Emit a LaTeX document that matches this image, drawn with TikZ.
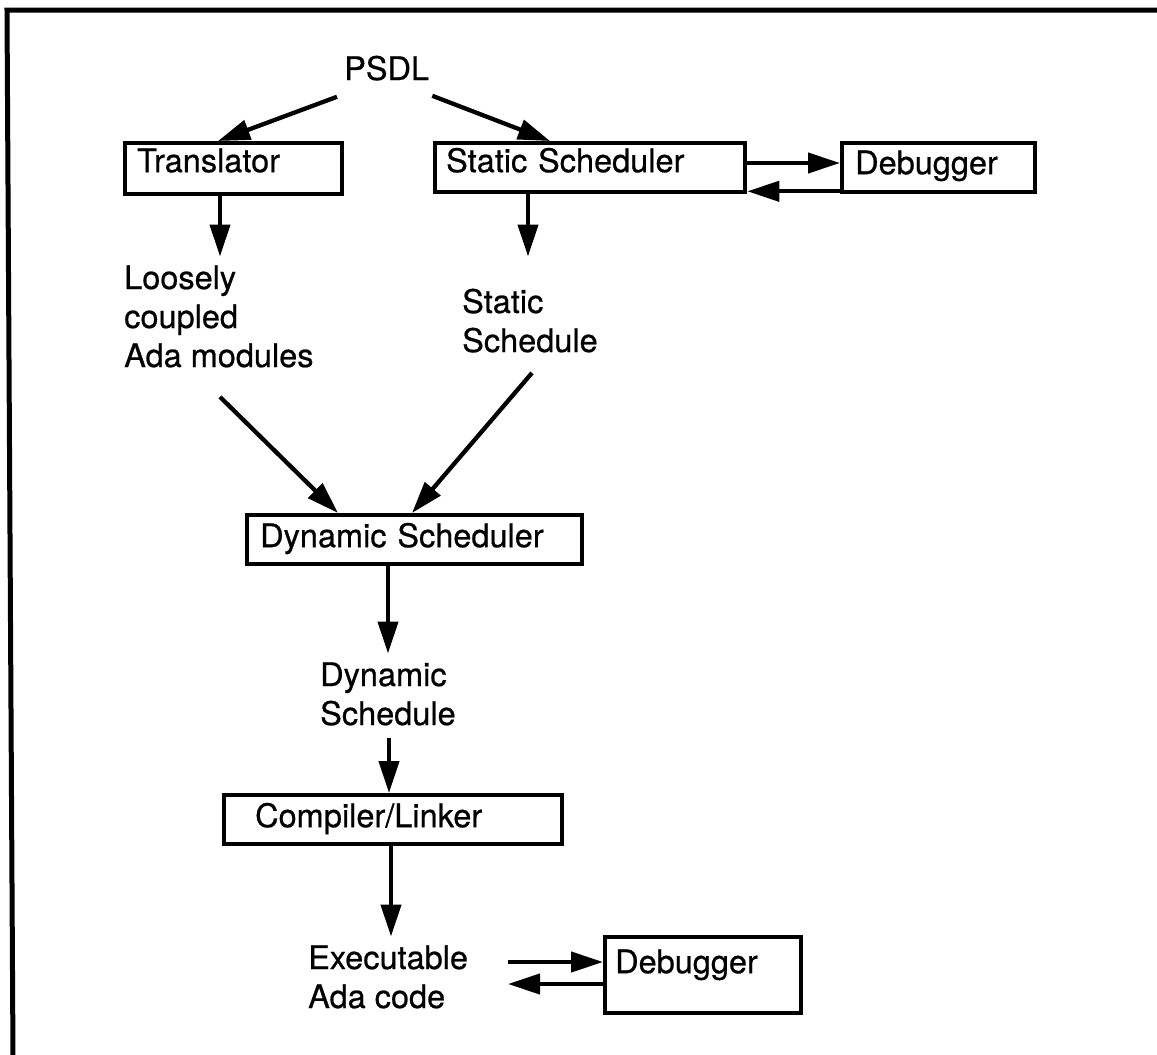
\documentclass[tikz,border=0pt]{standalone}
\usepackage{fontspec}
\setmainfont{TeX Gyre Heros}[FakeBold=0.6]
\usetikzlibrary{arrows.meta,calc}
\tikzset{
  lw/.style={line width=4.3pt},
  box/.style={draw, lw, anchor=north west, inner ysep=0pt, align=left, font=\fontsize{32.5pt}{39pt}\selectfont},
  lbl/.style={anchor=base west, inner sep=0pt, font=\fontsize{32.5pt}{39pt}\selectfont},
  arr/.style={lw, -{Triangle[length=32pt,width=20pt]}},
}
\begin{document}
\begin{tikzpicture}[x=1pt,y=-1pt]
\useasboundingbox (0,0) rectangle (1157,1055);
% frame
\draw[line width=5pt] (1160,10) -- (7,10) -- (13,1058);
% boxes
\node[box, inner xsep=12pt, text width=193pt, text height=29pt, text depth=22pt] (trans) at (123,141) {Translator};
\node[box, inner xsep=11pt, text width=288pt, text height=29pt, text depth=20pt] (stat) at (433,141) {Static Scheduler};
\node[box, inner xsep=13pt, text width=167pt, text height=31pt, text depth=18pt] (dbga) at (840,141) {Debugger};
\node[box, inner xsep=13pt, text width=309pt, text height=32pt, text depth=17pt] (dyn) at (245,513) {Dynamic Scheduler};
\node[box, inner xsep=31pt, text width=276pt, text height=32pt, text depth=17pt] (comp) at (222,793) {Compiler/Linker};
\node[box, inner xsep=10pt, text width=176pt, text height=36pt, text depth=40pt] (dbgb) at (603,935) {Debugger};
% labels
\node[lbl] (psdl) at (344,80) {PSDL};
\node[lbl] (loose) at (124,289) {\begin{tabular}[t]{@{}l@{}}Loosely\\coupled\\Ada modules\end{tabular}};
\node[lbl] (ssched) at (462,313) {\begin{tabular}[t]{@{}l@{}}Static\\Schedule\end{tabular}};
\node[lbl] (dsched) at (320,686) {\begin{tabular}[t]{@{}l@{}}Dynamic\\Schedule\end{tabular}};
\node[lbl] (exe) at (308,969) {\begin{tabular}[t]{@{}l@{}}Executable\\Ada code\end{tabular}};
% connectors
\draw[arr] ($(psdl.south west)+(-7,16)$) -- ($(trans.north west)+(95,0)$);
\draw[arr] ($(psdl.south east)+(3,15)$) -- ($(stat.north west)+(117,0)$);
\draw[arr] ($(stat.north east)+(0,22)$) -- ($(dbga.north west)+(0,22)$);
\draw[arr] ($(dbga.south west)+(0,-3)$) -- ($(stat.south east)+(0,-3)$);
\draw[arr] ($(trans.south west)+(97,0)$) -- ($(loose.north west)+(96,-5)$);
\draw[arr] ($(stat.south west)+(95,0)$) -- ($(ssched.north west)+(66,-29)$);
\draw[arr] ($(loose.south west)+(96,18)$) -- ($(dyn.north west)+(93,0)$);
\draw[arr] ($(ssched.south west)+(70,9)$) -- ($(dyn.north west)+(167,0)$);
\draw[arr] ($(dyn.south west)+(143,0)$) -- ($(dsched.north west)+(68,-5)$);
\draw[arr] ($(dsched.south west)+(69,1)$) -- ($(comp.north west)+(167,0)$);
\draw[arr] ($(comp.south west)+(169,0)$) -- ($(exe.north west)+(83,-5)$);
\draw[arr] ($(exe.base west)+(200,-7)$) -- ($(dbgb.north west)+(0,27)$);
\draw[arr] ($(dbgb.north west)+(0,49)$) -- ($(exe.base west)+(200,15)$);
\end{tikzpicture}
\end{document}
